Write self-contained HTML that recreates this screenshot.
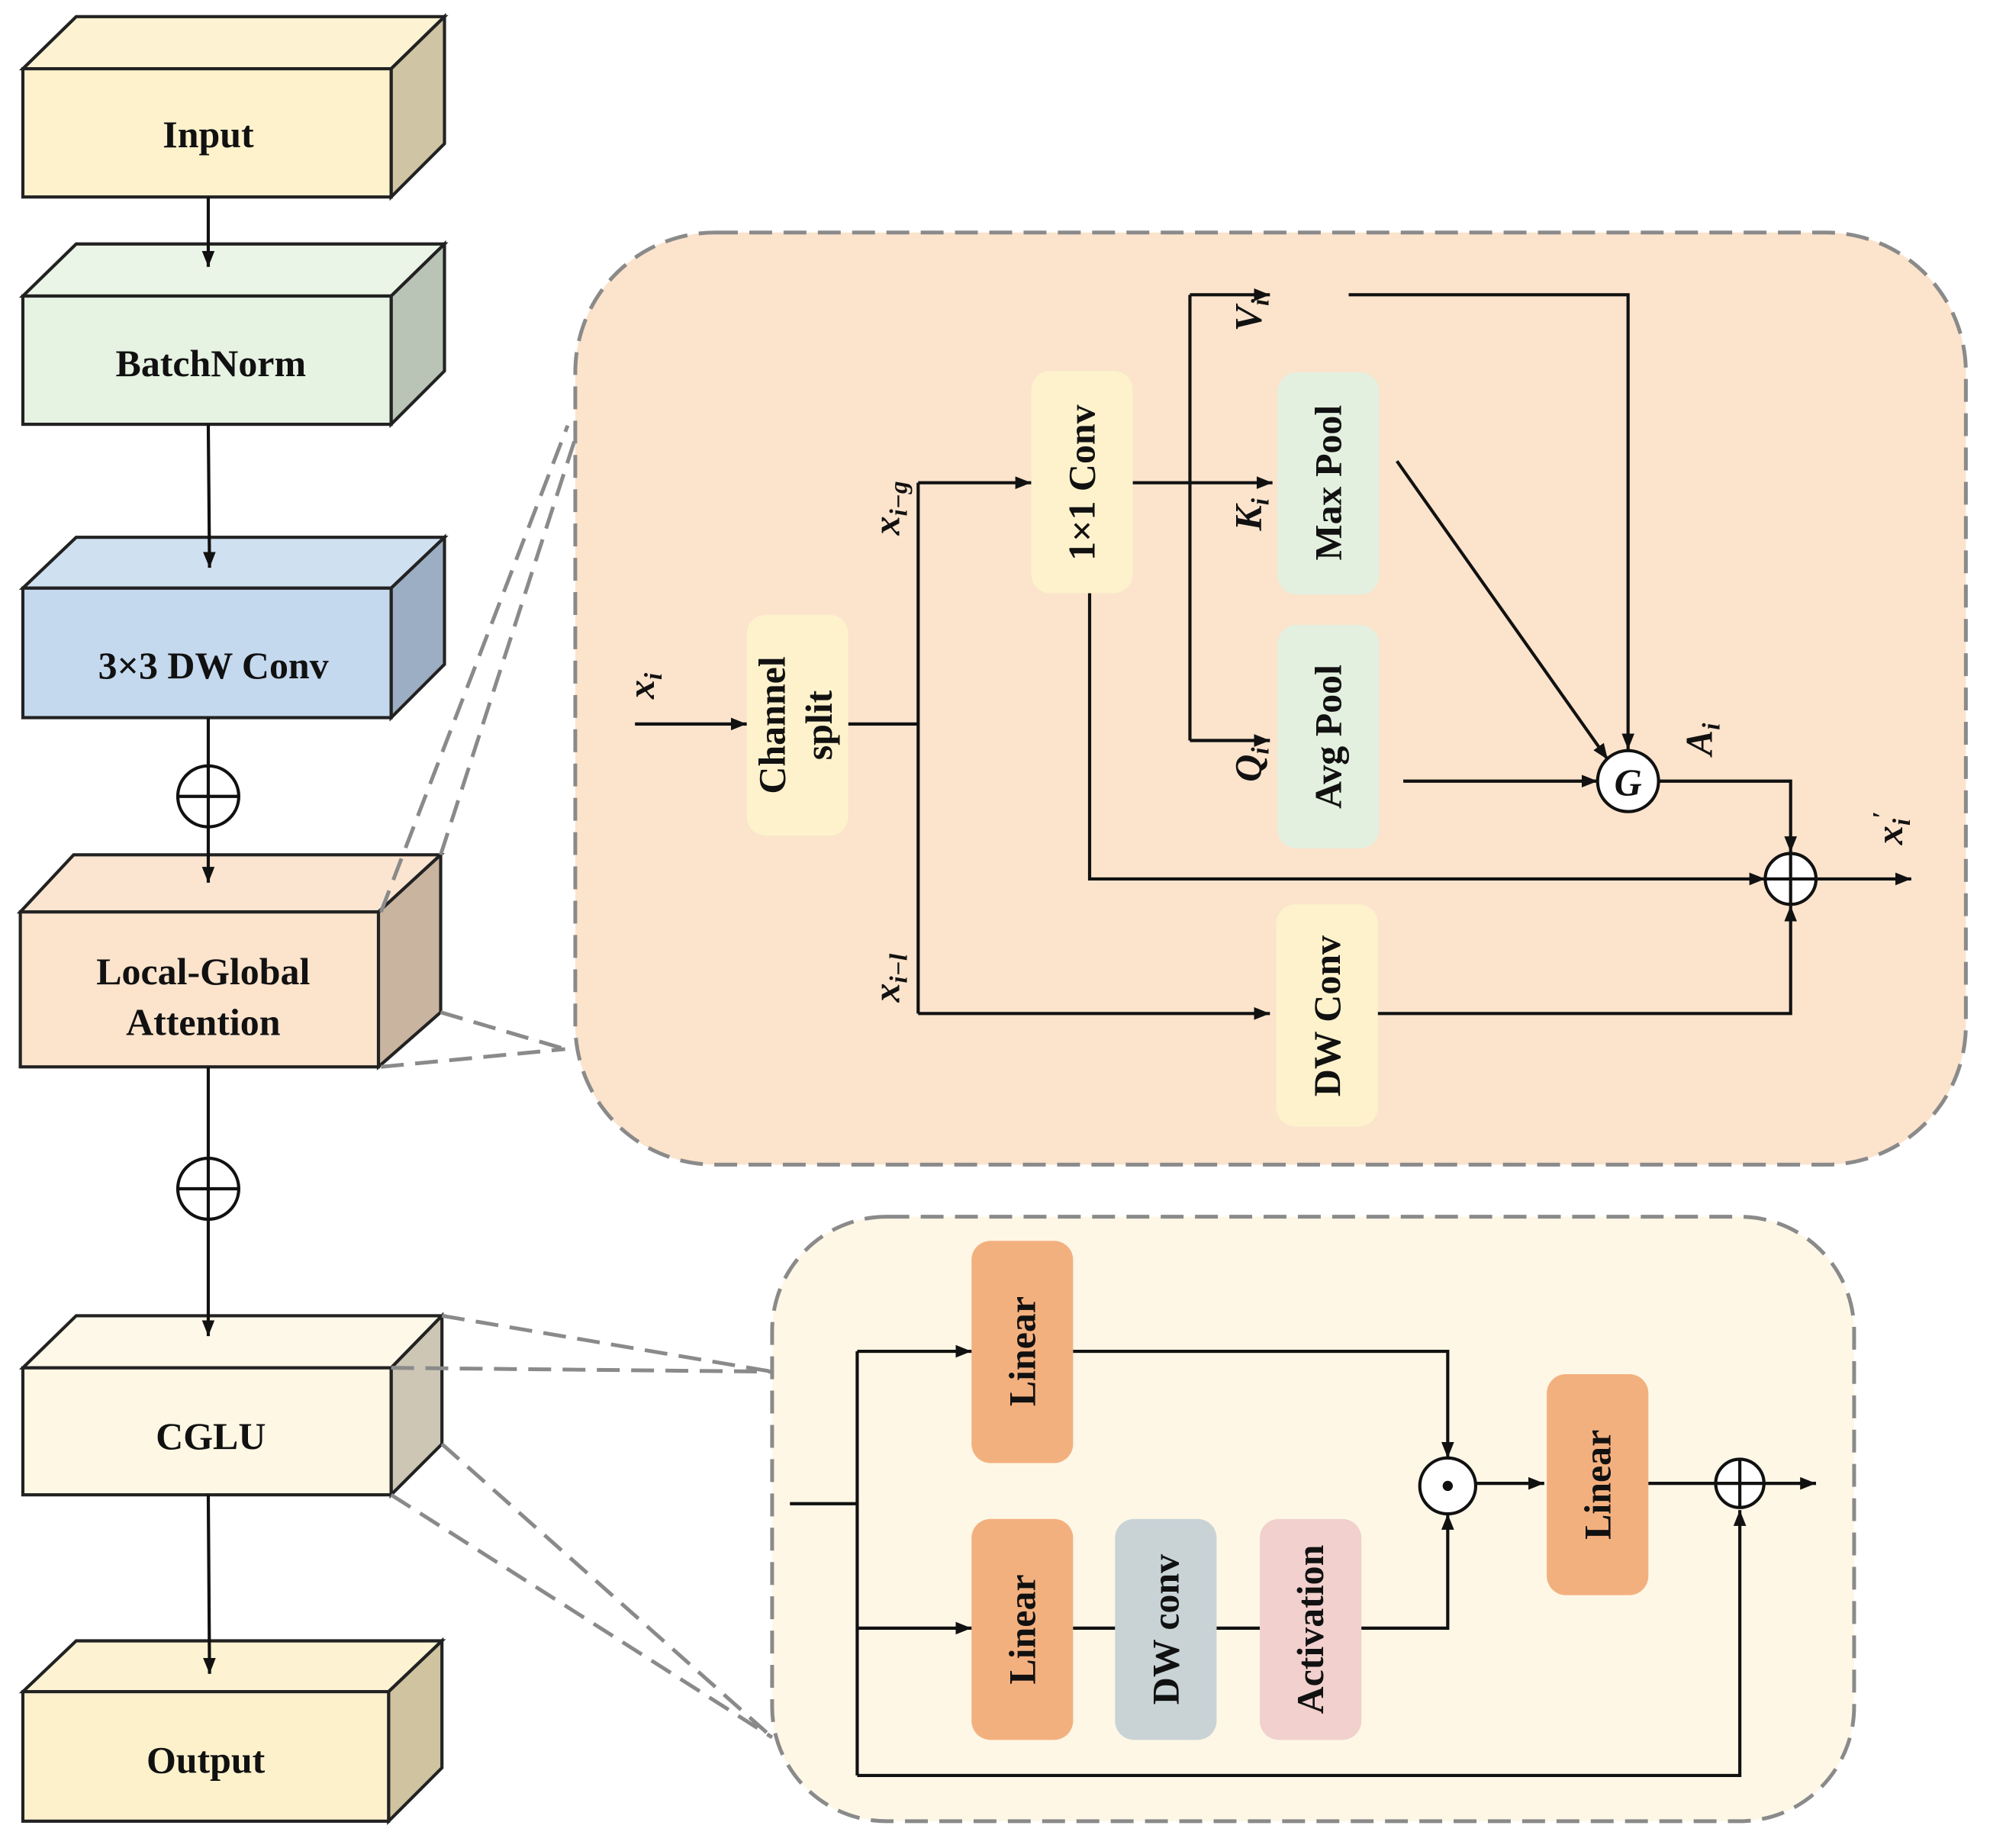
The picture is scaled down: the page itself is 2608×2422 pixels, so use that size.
<!DOCTYPE html>
<html><head><meta charset="utf-8"><style>html,body{margin:0;padding:0;background:#fff}svg{display:block}text{font-family:"Liberation Serif",serif;font-weight:bold;fill:#111}</style></head><body>
<svg width="2608" height="2422" viewBox="0 0 1567 1455" xmlns="http://www.w3.org/2000/svg">
<defs><marker id="a" viewBox="0 0 10 10" refX="10" refY="5" markerWidth="5" markerHeight="5" orient="auto"><path d="M0,1 L10,5 L0,9 z" fill="#111"/></marker></defs>
<g stroke="#222" stroke-width="2.5">
<polygon points="18,54 60,13 350,13 308,54" fill="#fdf3d2"/><polygon points="308,54 350,13 350,113 308,155" fill="#cfc4a3"/><rect x="18" y="54" width="290" height="101" fill="#fdf2cc"/>
<polygon points="18,233 60,192 350,192 308,233" fill="#eaf4e7"/><polygon points="308,233 350,192 350,292 308,334" fill="#b9c4b6"/><rect x="18" y="233" width="290" height="101" fill="#e6f2e2"/>
<polygon points="18,463 60,423 350,423 308,463" fill="#cfe0f1"/><polygon points="308,463 350,423 350,523 308,565" fill="#9caec4"/><rect x="18" y="463" width="290" height="102" fill="#c4d9ee"/>
<polygon points="16,718 58,673 347,673 298,718" fill="#fbe5d0"/><polygon points="298,718 347,673 347,797 298,840" fill="#c9b49f"/><rect x="16" y="718" width="282" height="122" fill="#fbe3cc"/>
<polygon points="18,1077 60,1036 348,1036 308,1077" fill="#fef8e8"/><polygon points="308,1077 348,1036 348,1137 308,1177" fill="#cdc6b5"/><rect x="18" y="1077" width="290" height="100" fill="#fdf7e4"/>
<polygon points="18,1332 60,1292 348,1292 306,1332" fill="#fdf3d2"/><polygon points="306,1332 348,1292 348,1392 306,1434" fill="#cfc3a0"/><rect x="18" y="1332" width="288" height="102" fill="#fdf1cc"/>
</g>
<g font-size="30" text-anchor="middle">
<text x="164" y="116">Input</text><text x="166" y="296">BatchNorm</text><text x="168" y="534">3×3 DW Conv</text>
<text x="160" y="775">Local-Global</text><text x="160" y="815">Attention</text>
<text x="166" y="1141">CGLU</text><text x="162" y="1396">Output</text></g>
<g stroke="#111" stroke-width="2.5" fill="none">
<line x1="164" y1="155" x2="164" y2="210" marker-end="url(#a)"/>
<line x1="164" y1="334" x2="165" y2="447" marker-end="url(#a)"/>
<line x1="164" y1="565" x2="164" y2="695" marker-end="url(#a)"/>
<line x1="164" y1="840" x2="164" y2="1052" marker-end="url(#a)"/>
<line x1="164" y1="1177" x2="165" y2="1318" marker-end="url(#a)"/>
<circle cx="164" cy="627" r="24" fill="#fff"/><line x1="140" y1="627" x2="188" y2="627"/><line x1="164" y1="603" x2="164" y2="651"/>
<circle cx="164" cy="936" r="24" fill="#fff"/><line x1="140" y1="936" x2="188" y2="936"/><line x1="164" y1="912" x2="164" y2="960"/>
</g>
<g stroke="#8a8a8a" stroke-width="3" stroke-dasharray="18,9" fill="none">
<line x1="300" y1="718" x2="447" y2="335"/><line x1="347" y1="673" x2="453" y2="345"/>
<line x1="347" y1="797" x2="445" y2="826"/><line x1="300" y1="840" x2="445" y2="826"/>
<line x1="348" y1="1036" x2="608" y2="1080"/><line x1="308" y1="1077" x2="608" y2="1080"/>
<line x1="348" y1="1137" x2="608" y2="1368"/><line x1="308" y1="1177" x2="608" y2="1368"/>
<rect x="453" y="183" width="1095" height="734" rx="110" fill="#fbe3cc"/>
<rect x="608" y="958" width="852" height="476" rx="90" fill="#fef7e6"/>
</g>
<g>
<rect x="588" y="484" width="80" height="174" rx="15" fill="#fdf2cc"/>
<rect x="812" y="292" width="80" height="175" rx="15" fill="#fdf2cc"/>
<rect x="1006" y="293" width="80" height="175" rx="15" fill="#e4f0df"/>
<rect x="1006" y="492" width="80" height="176" rx="15" fill="#e4f0df"/>
<rect x="1005" y="712" width="80" height="175" rx="15" fill="#fdf2cc"/>
<rect x="765" y="977" width="80" height="175" rx="15" fill="#f3b07f"/>
<rect x="765" y="1196" width="80" height="174" rx="15" fill="#f3b07f"/>
<rect x="878" y="1196" width="80" height="174" rx="15" fill="#c9d3d6"/>
<rect x="992" y="1196" width="80" height="174" rx="15" fill="#f1d0cd"/>
<rect x="1218" y="1082" width="80" height="174" rx="15" fill="#f3b07f"/>
</g>
<g font-size="30" text-anchor="middle">
<text transform="translate(618,571) rotate(-90)">Channel</text><text transform="translate(655,571) rotate(-90)">split</text>
<text transform="translate(862,380) rotate(-90)">1×1 Conv</text>
<text transform="translate(1056,380) rotate(-90)">Max Pool</text>
<text transform="translate(1056,580) rotate(-90)">Avg Pool</text>
<text transform="translate(1055,800) rotate(-90)">DW Conv</text>
<text transform="translate(815,1064) rotate(-90)">Linear</text>
<text transform="translate(815,1283) rotate(-90)">Linear</text>
<text transform="translate(928,1283) rotate(-90)">DW conv</text>
<text transform="translate(1042,1283) rotate(-90)">Activation</text>
<text transform="translate(1268,1169) rotate(-90)">Linear</text>
</g>
<g font-size="30" font-style="italic" text-anchor="middle">
<text transform="translate(515,540) rotate(-90)">x<tspan font-size="20" dy="6">i</tspan></text>
<text transform="translate(708,400) rotate(-90)">x<tspan font-size="20" dy="6">i−g</tspan></text>
<text transform="translate(708,770) rotate(-90)">x<tspan font-size="20" dy="6">i−l</tspan></text>
<text transform="translate(993,248) rotate(-90)">V<tspan font-size="20" dy="6">i</tspan></text>
<text transform="translate(993,405) rotate(-90)">K<tspan font-size="20" dy="6">i</tspan></text>
<text transform="translate(993,602) rotate(-90)">Q<tspan font-size="20" dy="6">i</tspan></text>
<text transform="translate(1348,582) rotate(-90)">A<tspan font-size="20" dy="6">i</tspan></text>
<text transform="translate(1498,652) rotate(-90)">x<tspan font-size="20" dy="6">i</tspan><tspan font-size="20" dy="-16">′</tspan></text>
</g>
<g stroke="#111" stroke-width="2.5" fill="none">
<line x1="500" y1="570" x2="588" y2="570" marker-end="url(#a)"/>
<polyline points="668,570 723,570"/>
<line x1="723" y1="380" x2="723" y2="798"/>
<line x1="723" y1="380" x2="812" y2="380" marker-end="url(#a)"/>
<line x1="892" y1="380" x2="1002" y2="380" marker-end="url(#a)"/>
<line x1="937" y1="232" x2="937" y2="583"/>
<line x1="937" y1="232" x2="1000" y2="232" marker-end="url(#a)"/>
<line x1="937" y1="583" x2="1000" y2="583" marker-end="url(#a)"/>
<polyline points="1062,232 1282,232 1282,590" marker-end="url(#a)"/>
<line x1="1100" y1="363" x2="1266" y2="598" marker-end="url(#a)"/>
<line x1="1105" y1="615" x2="1258" y2="615" marker-end="url(#a)"/>
<polyline points="1306,615 1410,615 1410,671" marker-end="url(#a)"/>
<polyline points="858,467 858,692 1390,692" marker-end="url(#a)"/>
<line x1="1430" y1="692" x2="1505" y2="692" marker-end="url(#a)"/>
<line x1="723" y1="798" x2="1000" y2="798" marker-end="url(#a)"/>
<polyline points="1085,798 1410,798 1410,713" marker-end="url(#a)"/>
<circle cx="1410" cy="692" r="20" fill="#fff"/><line x1="1390" y1="692" x2="1430" y2="692"/><line x1="1410" y1="672" x2="1410" y2="712"/>
<circle cx="1282" cy="615" r="24" fill="#fff"/>
<line x1="622" y1="1184" x2="675" y2="1184"/>
<line x1="675" y1="1064" x2="675" y2="1398"/>
<line x1="675" y1="1064" x2="765" y2="1064" marker-end="url(#a)"/>
<polyline points="845,1064 1140,1064 1140,1148" marker-end="url(#a)"/>
<line x1="675" y1="1282" x2="765" y2="1282" marker-end="url(#a)"/>
<line x1="845" y1="1282" x2="878" y2="1282"/><line x1="958" y1="1282" x2="992" y2="1282"/>
<polyline points="1072,1282 1140,1282 1140,1192" marker-end="url(#a)"/>
<line x1="1162" y1="1168" x2="1216" y2="1168" marker-end="url(#a)"/>
<line x1="1298" y1="1168" x2="1430" y2="1168" marker-end="url(#a)"/>
<polyline points="675,1398 1370,1398 1370,1189" marker-end="url(#a)"/>
<circle cx="1140" cy="1170" r="22" fill="#fff"/>
<circle cx="1370" cy="1168" r="19" fill="#fff"/><line x1="1351" y1="1168" x2="1389" y2="1168"/><line x1="1370" y1="1149" x2="1370" y2="1187"/>
</g>
<circle cx="1140" cy="1170" r="4" fill="#111"/>
<text x="1282" y="626" font-size="30" font-style="italic" text-anchor="middle">G</text>
</svg>
</body></html>
